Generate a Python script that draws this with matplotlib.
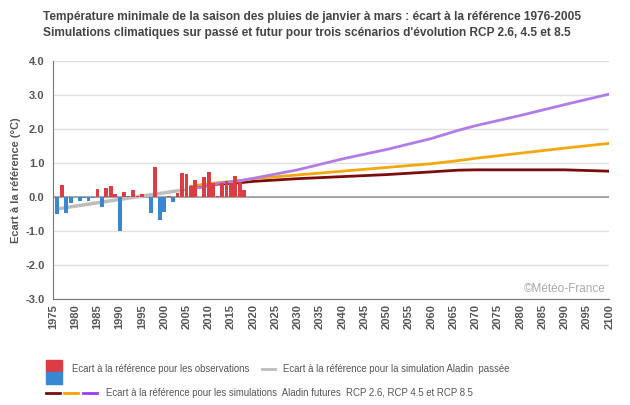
import matplotlib.pyplot as plt
from matplotlib.lines import Line2D
from matplotlib.patches import Rectangle

plt.rcParams['font.family'] = ['Liberation Sans', 'DejaVu Sans']

# observed anomalies (degC)
obs_years = list(range(1976, 2019))
obs_values = [-0.51, 0.36, -0.48, -0.19, 0.0, -0.13, -0.04, -0.13, -0.04, 0.25,
              -0.30, 0.27, 0.33, 0.10, -0.99, 0.16, 0.04, 0.22, 0.04, 0.10,
              0.0, -0.48, 0.89, -0.69, -0.45, 0.04, -0.16, 0.13, 0.72, 0.69,
              0.33, 0.51, 0.0, 0.60, 0.75, 0.42, 0.04, 0.42, 0.48, 0.40,
              0.63, 0.45, 0.22]

# Aladin past simulation
past_years = [1976, 1990, 2005]
past_values = [-0.35, -0.07, 0.22]

# Aladin future simulations
fut_years = [2006, 2008, 2012, 2017, 2020, 2030, 2040, 2050, 2060, 2066, 2070, 2080, 2090, 2100]
rcp26 = [0.30, 0.32, 0.38, 0.42, 0.46, 0.54, 0.60, 0.66, 0.74, 0.79, 0.80, 0.80, 0.80, 0.76]
rcp45 = [0.30, 0.36, 0.42, 0.48, 0.54, 0.65, 0.76, 0.87, 0.98, 1.07, 1.14, 1.29, 1.44, 1.58]
rcp85 = [0.28, 0.27, 0.40, 0.48, 0.55, 0.80, 1.12, 1.40, 1.72, 1.96, 2.10, 2.40, 2.72, 3.03]

RED = '#dc3d45'
BLUE = '#3787d2'
GREY = '#bdbdbd'
C26 = '#7a0c0c'
C45 = '#f3a710'
C85 = '#b07ce8'
TXT = '#555555'

fig = plt.figure(figsize=(6.3, 4.05), dpi=100)
ax = fig.add_axes([0.084, 0.262, 0.883, 0.587])

ax.plot(past_years, past_values, color=GREY, lw=2.5, zorder=2, solid_capstyle='butt')
ax.plot(fut_years, rcp26, color=C26, lw=2, zorder=2)
ax.plot(fut_years, rcp45, color=C45, lw=2, zorder=2)
ax.plot(fut_years, rcp85, color=C85, lw=2, zorder=2)

colors = [RED if v >= 0 else BLUE for v in obs_values]
ax.bar(obs_years, obs_values, width=0.85, color=colors, zorder=3)

ax.axhline(0, color='#999999', lw=1.2, zorder=1)
ax.set_xlim(1975, 2100)
ax.set_ylim(-3, 4)
ax.set_yticks(range(-3, 5))
ax.set_yticklabels([f'{v:.1f}' for v in range(-3, 5)])
ax.set_xticks(range(1975, 2101, 5))
ax.tick_params(axis='x', length=0, pad=4, labelrotation=90, labelsize=8, colors=TXT)
ax.tick_params(axis='y', length=0, pad=6, labelsize=8, colors=TXT)
for lab in ax.get_xticklabels() + ax.get_yticklabels():
    lab.set_fontweight('bold')
ax.grid(axis='y', color='#e0e0e0', lw=1, zorder=0)
ax.set_axisbelow(True)
for s in ['top', 'right']:
    ax.spines[s].set_visible(False)
for s in ['left', 'bottom']:
    ax.spines[s].set_color('#777777')
ax.set_ylabel('Ecart à la référence (°C)', fontsize=8, fontweight='bold', color=TXT, labelpad=3)

ax.text(0.993, 0.015, '©Météo-France', transform=ax.transAxes, ha='right', va='bottom',
        fontsize=8.5, color='#aaaaaa')

fig.text(0.068, 0.957, 'Température minimale de la saison des pluies de janvier à mars : écart à la référence 1976-2005',
         fontsize=8.6, fontweight='bold', color='#444444', va='center')
fig.text(0.068, 0.918, "Simulations climatiques sur passé et futur pour trois scénarios d'évolution RCP 2.6, 4.5 et 8.5",
         fontsize=8.6, fontweight='bold', color='#444444', va='center')

# legend
W, H = 630, 405
def px(x, y):
    return x / W, 1 - y / H

fig.patches.append(Rectangle(px(46, 372), 16 / W, 12 / H, transform=fig.transFigure, color=RED))
fig.patches.append(Rectangle(px(46, 384), 16 / W, 12 / H, transform=fig.transFigure, color=BLUE))
fig.text(*px(72, 369), 'Ecart à la référence pour les observations', fontsize=6.9, color=TXT, va='center')

def leg_line(x0, x1, y, c):
    fig.lines.append(Line2D([x0 / W, x1 / W], [1 - y / H, 1 - y / H], transform=fig.transFigure, color=c, lw=2))

leg_line(262, 275, 369, GREY)
fig.text(*px(283, 369), 'Ecart à la référence pour la simulation Aladin  passée', fontsize=6.9, color=TXT, va='center')
leg_line(46, 60, 393, C26)
leg_line(64, 78, 393, '#ff9c00')
leg_line(83, 97, 393, '#9a3cff')
fig.text(*px(106, 393), 'Ecart à la référence pour les simulations  Aladin futures  RCP 2.6, RCP 4.5 et RCP 8.5',
         fontsize=6.9, color=TXT, va='center')

fig.savefig('out.png', dpi=100)
